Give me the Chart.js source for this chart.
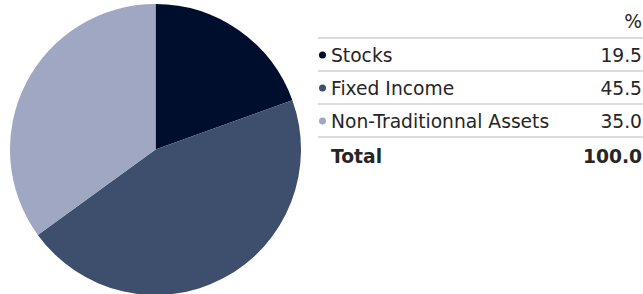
<!DOCTYPE html>
<html><head><meta charset="utf-8">
<script src="https://cdn.jsdelivr.net/npm/chart.js@4.4.1/dist/chart.umd.min.js"></script>
<style>
html,body{margin:0;padding:0;background:#fff;width:643px;height:294px;overflow:hidden;font-family:"DejaVu Sans",Verdana,sans-serif;}
#pie{position:absolute;left:10px;top:4px;width:291px;height:291px;}
#tbl{position:absolute;left:318px;top:0;width:325px;color:#262626;font-size:18.7px;}
.row{position:relative;height:33px;border-bottom:2px solid #dcdcdc;box-sizing:border-box;}
.row.head{height:39px;}
.row.last{border-bottom:none;}
.lab{position:absolute;left:13px;top:50%;transform:translateY(-50%);white-space:nowrap;}
.val{position:absolute;right:1px;top:50%;transform:translateY(-50%);white-space:nowrap;}
.dot{position:absolute;left:1px;top:50%;width:7px;height:7px;border-radius:50%;transform:translateY(-50%);}
.bold{font-weight:bold;}
</style></head>
<body>
<div id="pie"><canvas id="c"></canvas></div>
<div id="tbl"></div>
<script>
const categories = ["Stocks", "Fixed Income", "Non-Traditionnal Assets"];
const values = [19.5, 45.5, 35.0];
const colors = ["#000e2d", "#3e4f6d", "#a0a7c2"];
const headerLabel = "%";
const totalLabel = "Total";
const totalValue = "100.0";

new Chart(document.getElementById('c'), {
  type: 'pie',
  data: { labels: categories, datasets: [{ data: values, backgroundColor: colors, borderWidth: 0 }] },
  options: {
    responsive: true, maintainAspectRatio: false, animation: false,
    layout: { padding: 0 },
    plugins: { legend: { display: false }, tooltip: { enabled: false } }
  }
});

const tbl = document.getElementById('tbl');
let html = '<div class="row head"><span class="val" style="top:21px">' + headerLabel + '</span></div>';
categories.forEach((c, i) => {
  html += '<div class="row"><span class="dot" style="background:' + colors[i] + '"></span><span class="lab">' + c + '</span><span class="val">' + values[i].toFixed(1) + '</span></div>';
});
html += '<div class="row last bold" style="height:36px"><span class="lab">' + totalLabel + '</span><span class="val">' + totalValue + '</span></div>';
tbl.innerHTML = html;
</script>
</body></html>
